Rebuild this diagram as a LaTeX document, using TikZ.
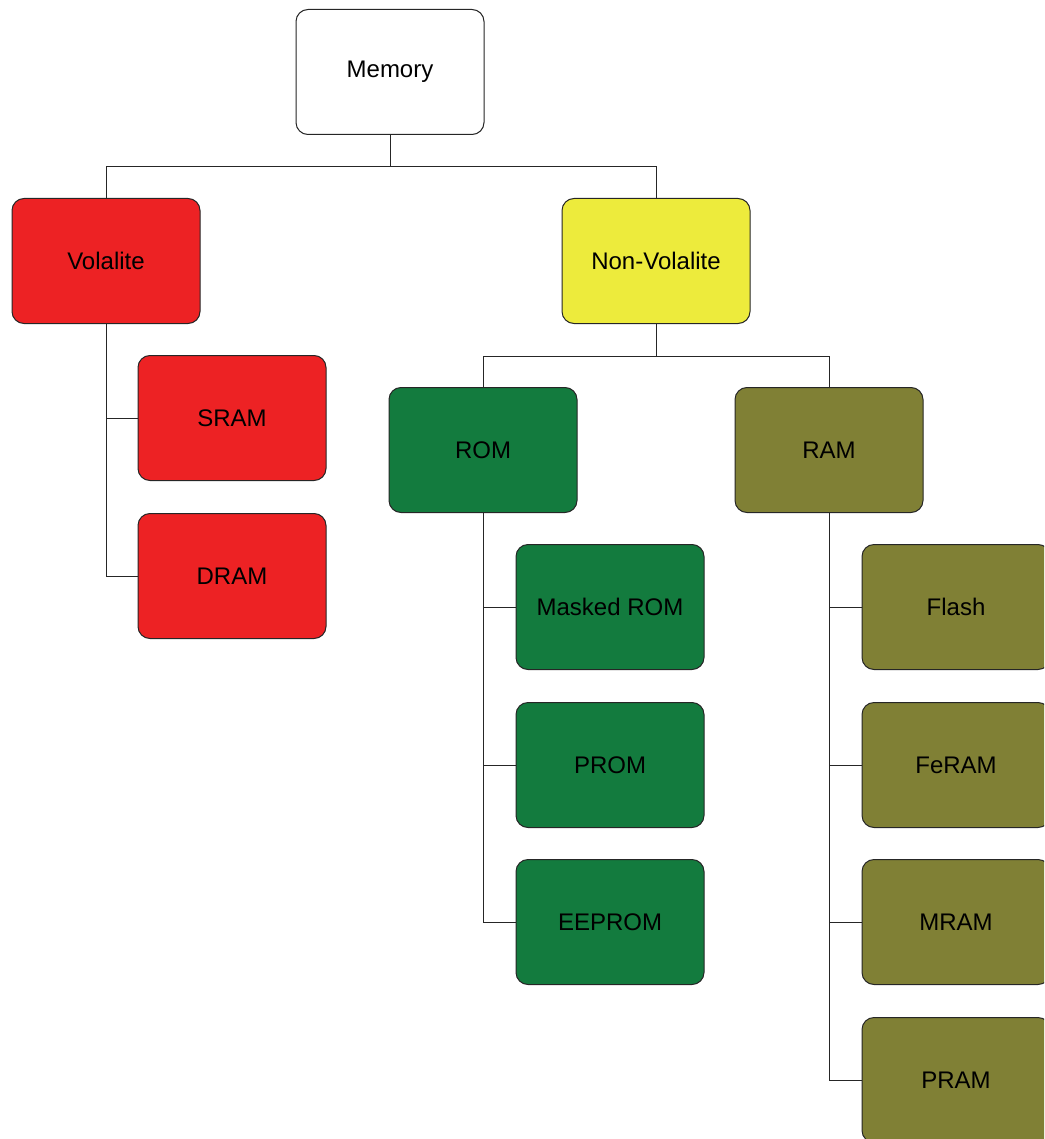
\documentclass[tikz,border=0pt]{standalone}
\usepackage{fontspec}
\setmainfont{Liberation Sans}
\definecolor{volred}{HTML}{ED2224}
\definecolor{nvolyellow}{HTML}{EDEB3C}
\definecolor{romgreen}{HTML}{137B3E}
\definecolor{ramolive}{HTML}{808035}
\tikzset{
  membox/.style={draw=black!85, line width=0.5pt, rounded corners=6pt,
    minimum width=94pt, minimum height=62.5pt, inner sep=0pt,
    font=\fontsize{12}{14}\selectfont},
  link/.style={draw=black!85, line width=0.5pt}
}

\begin{document}
\begin{tikzpicture}[x=0.5pt,y=-0.5pt]
\useasboundingbox (0,0) rectangle (1044,1139);
\clip (0,0) rectangle (1044,1139);
% Top level
\node[membox,fill=white] (mem) at (390,72) {Memory};
\node[membox,fill=volred] (vol) at (106,261) {Volalite};
\node[membox,fill=nvolyellow] (nvol) at (656,261) {Non-Volalite};
% Volatile types
\node[membox,fill=volred] (sram) at (232,418) {SRAM};
\node[membox,fill=volred] (dram) at (232,576) {DRAM};
% Non-volatile types
\node[membox,fill=romgreen] (rom) at (483,450) {ROM};
\node[membox,fill=ramolive] (ram) at (829,450) {RAM};
\node[membox,fill=romgreen] (mrom) at (610,607) {Masked ROM};
\node[membox,fill=romgreen] (prom) at (610,765) {PROM};
\node[membox,fill=romgreen] (eeprom) at (610,922) {EEPROM};
\node[membox,fill=ramolive] (flash) at (956,607) {Flash};
\node[membox,fill=ramolive] (feram) at (956,765) {FeRAM};
\node[membox,fill=ramolive] (mram) at (956,922) {MRAM};
\node[membox,fill=ramolive] (pram) at (956,1080) {PRAM};
% Connectors:
\draw[link] (mem.south) -- ++(0,32) -| (vol.north);
\draw[link] (mem.south) -- ++(0,32) -| (nvol.north);
\draw[link] (vol.south) |- (sram.west);
\draw[link] (vol.south) |- (dram.west);
\draw[link] (nvol.south) -- ++(0,32) -| (rom.north);
\draw[link] (nvol.south) -- ++(0,32) -| (ram.north);
\draw[link] (rom.south) |- (mrom.west);
\draw[link] (rom.south) |- (prom.west);
\draw[link] (rom.south) |- (eeprom.west);
\draw[link] (ram.south) |- (flash.west);
\draw[link] (ram.south) |- (feram.west);
\draw[link] (ram.south) |- (mram.west);
\draw[link] (ram.south) |- (pram.west);
\end{tikzpicture}
\end{document}
